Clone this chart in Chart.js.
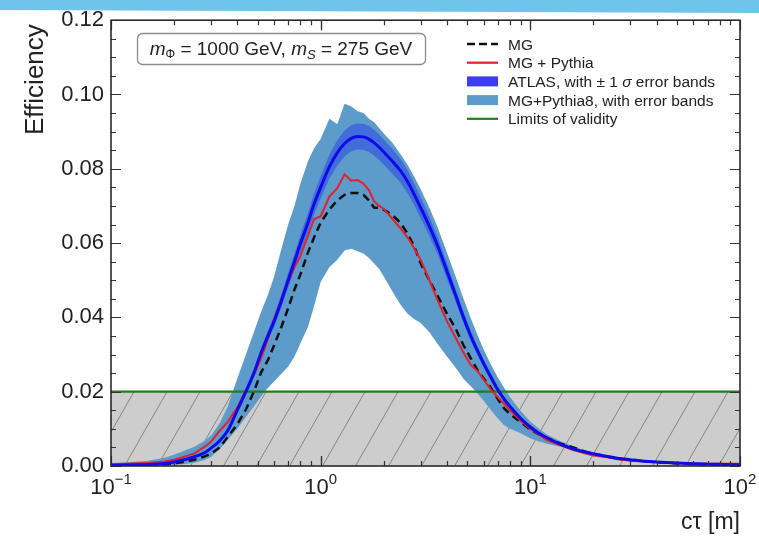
<!DOCTYPE html>
<html><head><meta charset="utf-8">
<script src="https://cdn.jsdelivr.net/npm/chart.js@4.4.0/dist/chart.umd.min.js"></script>
<style>html,body{margin:0;padding:0;background:#fff;}#wrap{width:759px;height:536px;}</style>
</head><body><div id="wrap"><canvas id="c" width="759" height="536"></canvas></div>
<script>
// ---------- data ----------
const ctau = [0.1,0.12,0.15,0.18,0.2,0.22,0.25,0.28,0.3,0.33,0.36,0.4,0.44,0.48,0.52,0.56,0.6,0.65,0.7,0.75,0.8,0.87,0.93,1.0,1.1,1.2,1.3,1.4,1.5,1.6,1.7,1.8,1.9,2.0,2.2,2.4,2.6,2.8,3.0,3.3,3.6,4.0,4.4,4.8,5.2,5.6,6.0,6.5,7.0,7.5,8.0,9.0,10,11,12,14,16,18,20,23,26,30,35,40,50,60,70,85,100];
const atlas = [.0002,.0003,.0004,.0007,.0011,.0016,.0025,.0036,.0048,.0068,.0095,.0150,.0200,.0250,.0305,.0350,.0390,.0445,.0500,.0550,.0598,.0655,.0705,.0750,.0805,.0843,.0868,.0882,.0887,.0886,.0880,.0870,.0858,.0845,.0820,.0795,.0765,.0730,.0695,.0645,.0595,.0525,.0460,.0400,.0350,.0310,.0275,.0238,.0205,.0180,.0160,.0128,.0105,.0088,.0076,.0058,.0046,.0038,.0033,.0026,.0021,.0017,.0013,.0011,.0008,.0006,.0005,.0004,.0003];
const atlasUp = [.0002,.0003,.0004,.0007,.0011,.0017,.0026,.0038,.0050,.0071,.0099,.0156,.0208,.0260,.0317,.0364,.0406,.0463,.0520,.0572,.0622,.0681,.0733,.0780,.0837,.0877,.0903,.0917,.0922,.0921,.0915,.0905,.0892,.0879,.0853,.0827,.0796,.0759,.0723,.0671,.0619,.0546,.0478,.0416,.0364,.0322,.0286,.0248,.0213,.0187,.0166,.0133,.0109,.0092,.0079,.0060,.0048,.0040,.0034,.0027,.0022,.0018,.0014,.0011,.0008,.0006,.0005,.0004,.0003];
const atlasDown = [.0002,.0003,.0004,.0007,.0011,.0015,.0024,.0035,.0046,.0065,.0091,.0144,.0192,.0240,.0293,.0336,.0374,.0427,.0480,.0528,.0574,.0629,.0677,.0720,.0773,.0809,.0833,.0847,.0852,.0851,.0845,.0835,.0824,.0811,.0787,.0763,.0734,.0701,.0667,.0619,.0571,.0504,.0442,.0384,.0336,.0298,.0264,.0228,.0197,.0173,.0154,.0123,.0101,.0084,.0073,.0056,.0044,.0036,.0032,.0025,.0020,.0016,.0012,.0011,.0008,.0006,.0005,.0004,.0003];
const py8Up = [.0008,.0010,.0014,.0022,.0030,.0040,.0052,.0068,.0082,.0115,.0160,.0235,.0300,.0360,.0415,.0460,.0510,.0585,.0650,.0700,.0760,.0820,.0855,.0880,.0935,.0920,.0975,.0968,.0955,.0950,.0935,.0925,.0910,.0895,.0870,.0840,.0810,.0778,.0745,.0695,.0645,.0575,.0510,.0450,.0398,.0352,.0312,.0272,.0238,.0210,.0186,.0148,.0120,.0100,.0085,.0066,.0053,.0043,.0036,.0028,.0023,.0019,.0015,.0012,.0009,.0007,.0006,.0005,.0004];
const py8Down = [.0000,.0000,.0001,.0002,.0003,.0005,.0009,.0016,.0024,.0045,.0070,.0100,.0132,.0160,.0188,.0210,.0228,.0248,.0268,.0295,.0330,.0375,.0430,.0495,.0535,.0555,.0580,.0585,.0578,.0572,.0560,.0545,.0530,.0510,.0470,.0435,.0410,.0395,.0385,.0360,.0330,.0295,.0265,.0235,.0215,.0195,.0175,.0150,.0128,.0110,.0100,.0088,.0075,.0066,.0060,.0052,.0045,.0037,.0030,.0024,.0019,.0015,.0011,.0009,.0006,.0004,.0003,.0002,.0001];
const mgPythia = [.0005,.0006,.0008,.0012,.0017,.0024,.0034,.0052,.0065,.0095,.0118,.0157,.0205,.0245,.0290,.0342,.0395,.0450,.0495,.0535,.0565,.0620,.0665,.0672,.0725,.0748,.0785,.0768,.0770,.0760,.0742,.0712,.0700,.0692,.0665,.0640,.0615,.0585,.0555,.0500,.0448,.0390,.0345,.0305,.0272,.0255,.0232,.0205,.0185,.0168,.0150,.0122,.0100,.0085,.0070,.0055,.0043,.0035,.0028,.0024,.0018,.0014,.0012,.0010,.0008,.0007,.0006,.0006,.0006];
const mg = [.0000,.0001,.0002,.0004,.0007,.0011,.0017,.0026,.0033,.0050,.0078,.0112,.0152,.0200,.0252,.0285,.0325,.0375,.0425,.0475,.0515,.0575,.0615,.0655,.0690,.0715,.0730,.0735,.0735,.0730,.0715,.0695,.0695,.0690,.0675,.0655,.0625,.0590,.0545,.0500,.0460,.0410,.0370,.0325,.0290,.0258,.0235,.0210,.0180,.0155,.0140,.0118,.0098,.0085,.0075,.0060,.0050,.0040,.0033,.0026,.0020,.0016,.0013,.0010,.0007,.0005,.0004,.0003,.0003];
const validityLimit = 0.02;
const yTickValues = [0, 0.02, 0.04, 0.06, 0.08, 0.10, 0.12];
const yTickLabels = ['0.00','0.02','0.04','0.06','0.08','0.10','0.12'];
const yMinorStep = 0.005;
const xTickValues = [0.1, 1, 10, 100];
const xTickBase = ['10','10','10','10'];
const xTickExps = ['\u22121','0','1','2'];
const legendLabels = ['MG','MG + Pythia','ATLAS, with \u00b1 1 \u03c3 error bands','MG+Pythia8, with error bands','Limits of validity'];
const xTitle = 'c\u03c4 [m]';
const yTitle = 'Efficiency';

// ---------- styles ----------
const FONT = '"Liberation Sans", Arial, sans-serif';
const C_BLUE = 'rgb(12,12,235)';
const C_ATLASBAND = 'rgba(0,0,255,0.30)';
const C_ATLASPATCH = 'rgb(60,60,242)';
const C_PY8 = 'rgb(93,155,203)';
const C_RED = 'rgb(230,32,38)';
const C_GREEN = 'rgb(28,128,28)';
const C_TEXT = '#222';

const pts = arr => ctau.map((x, i) => ({x, y: arr[i]}));

function drawParts(ctx, x, y, parts, align) {
  let total = 0;
  parts.forEach(p => { ctx.font = p.f; p.w = ctx.measureText(p.t).width; total += p.w; });
  let cx = align === 'center' ? x - total / 2 : align === 'right' ? x - total : x;
  ctx.textAlign = 'left'; ctx.textBaseline = 'alphabetic';
  parts.forEach(p => { ctx.font = p.f; ctx.fillText(p.t, cx, y + (p.dy || 0)); cx += p.w; });
}

const decor = {
  id: 'decor',
  beforeDatasetsDraw(chart) {
    const {ctx, chartArea: a, scales: {y}} = chart;
    const yTop = y.getPixelForValue(validityLimit), yBot = y.getPixelForValue(0);
    ctx.save();
    ctx.beginPath(); ctx.rect(a.left, yTop, a.right - a.left, yBot - yTop); ctx.clip();
    ctx.fillStyle = '#cdcdcd';
    ctx.fillRect(a.left, yTop, a.right - a.left, yBot - yTop);
    ctx.strokeStyle = '#858585'; ctx.lineWidth = 1;
    const h = yBot - yTop, dx = h / 1.75;
    for (let x0 = a.left - dx - 10; x0 < a.right + dx; x0 += 33) {
      ctx.beginPath(); ctx.moveTo(x0, yBot); ctx.lineTo(x0 + dx, yTop); ctx.stroke();
    }
    ctx.restore();
  },
  afterDatasetDraw(chart, args) {
    if (args.index !== 5) return;
    const {ctx, chartArea: a, scales: {y}} = chart;
    const py = y.getPixelForValue(validityLimit);
    ctx.save();
    ctx.strokeStyle = C_GREEN; ctx.lineWidth = 2.2;
    ctx.beginPath(); ctx.moveTo(a.left, py); ctx.lineTo(a.right, py); ctx.stroke();
    ctx.restore();
  },
  afterDatasetsDraw(chart) {
    const {ctx, chartArea: a, scales: {x, y}} = chart;
    ctx.save();
    ctx.strokeStyle = '#333'; ctx.lineWidth = 1.2;
    // y ticks
    const nY = Math.round(0.12 / yMinorStep);
    for (let k = 0; k <= nY; k++) {
      const v = k * yMinorStep;
      const major = k % 4 === 0;
      const len = major ? 10 : 5;
      const py = Math.round(y.getPixelForValue(v)) + 0.5;
      ctx.beginPath();
      ctx.moveTo(a.left, py); ctx.lineTo(a.left + len, py);
      ctx.moveTo(a.right, py); ctx.lineTo(a.right - len, py);
      ctx.stroke();
    }
    // x ticks
    [0.1, 1, 10].forEach(d => {
      for (let m = 1; m <= 10; m++) {
        const v = d * m;
        const major = (m === 1 || m === 10);
        const len = major ? 10 : 5;
        const px = Math.round(x.getPixelForValue(v)) + 0.5;
        ctx.beginPath();
        ctx.moveTo(px, a.bottom); ctx.lineTo(px, a.bottom - len);
        ctx.moveTo(px, a.top); ctx.lineTo(px, a.top + len);
        ctx.stroke();
      }
    });
    ctx.lineWidth = 1.6; ctx.strokeStyle = '#2a2a2a';
    ctx.strokeRect(a.left, a.top, a.right - a.left, a.bottom - a.top);
    ctx.restore();
  },
  afterDraw(chart) {
    const {ctx, chartArea: a, scales: {x}} = chart;
    ctx.save();
    ctx.fillStyle = C_TEXT;
    // x tick labels
    xTickValues.forEach((v, i) => {
      const px = x.getPixelForValue(v);
      drawParts(ctx, px, a.bottom + 28, [
        {t: xTickBase[i], f: '22px ' + FONT},
        {t: xTickExps[i], f: '15px ' + FONT, dy: -10}
      ], 'center');
    });
    // axis titles
    ctx.font = '23px ' + FONT; ctx.textAlign = 'right'; ctx.textBaseline = 'alphabetic';
    ctx.fillText(xTitle, a.right, a.bottom + 63);
    ctx.save();
    ctx.translate(43, a.top + 4); ctx.rotate(-Math.PI / 2);
    ctx.font = '26px ' + FONT; ctx.textAlign = 'right';
    ctx.fillText(yTitle, 0, 0);
    ctx.restore();
    // annotation box
    ctx.fillStyle = '#fff'; ctx.strokeStyle = '#8c8c8c'; ctx.lineWidth = 1.3;
    ctx.beginPath(); ctx.roundRect(137.5, 33.5, 288, 31, 5); ctx.fill(); ctx.stroke();
    ctx.fillStyle = C_TEXT;
    drawParts(ctx, 281, 55, [
      {t: 'm', f: 'italic 19px ' + FONT},
      {t: '\u03a6', f: '12px ' + FONT, dy: 3},
      {t: ' = 1000 GeV, ', f: '19px ' + FONT},
      {t: 'm', f: 'italic 19px ' + FONT},
      {t: 'S', f: 'italic 13px ' + FONT, dy: 4},
      {t: ' = 275 GeV', f: '19px ' + FONT}
    ], 'center');
    // legend
    const lx0 = 467, lx1 = 498, tx = 508, ly0 = 44, step = 18.7;
    legendLabels.forEach((lab, i) => {
      const cy = ly0 + i * step;
      ctx.save();
      if (i === 0) {
        ctx.strokeStyle = '#111'; ctx.lineWidth = 2.5; ctx.setLineDash([8, 4]);
        ctx.beginPath(); ctx.moveTo(lx0, cy); ctx.lineTo(lx1, cy); ctx.stroke();
      } else if (i === 1 || i === 4) {
        ctx.strokeStyle = i === 1 ? C_RED : C_GREEN; ctx.lineWidth = 2.2;
        ctx.beginPath(); ctx.moveTo(lx0, cy); ctx.lineTo(lx1, cy); ctx.stroke();
      } else {
        ctx.fillStyle = i === 2 ? C_ATLASPATCH : C_PY8;
        ctx.fillRect(lx0, cy - 5, lx1 - lx0, 10);
      }
      ctx.restore();
      ctx.fillStyle = C_TEXT;
      if (i === 2) {
        const parts = lab.split('\u03c3');
        drawParts(ctx, tx, cy + 5.5, [
          {t: parts[0], f: '15.5px ' + FONT},
          {t: '\u03c3', f: 'italic 15.5px ' + FONT},
          {t: parts[1], f: '15.5px ' + FONT}
        ], 'left');
      } else {
        drawParts(ctx, tx, cy + 5.5, [{t: lab, f: '15.5px ' + FONT}], 'left');
      }
    });
    // top banner strip
    ctx.fillStyle = 'rgb(110,196,234)';
    ctx.beginPath(); ctx.moveTo(0, 0); ctx.lineTo(759, 0); ctx.lineTo(759, 13); ctx.lineTo(0, 10); ctx.closePath(); ctx.fill();
    ctx.restore();
  }
};

new Chart(document.getElementById('c'), {
  type: 'line',
  data: {
    datasets: [
      {label: 'ATLAS', data: pts(atlas), borderColor: C_BLUE, borderWidth: 3, cubicInterpolationMode: 'monotone', fill: false},
      {label: 'MG + Pythia', data: pts(mgPythia), borderColor: C_RED, borderWidth: 2, fill: false},
      {label: 'MG', data: pts(mg), borderColor: '#111', borderWidth: 2.5, borderDash: [8, 5], fill: false},
      {label: 'ATLAS band up', data: pts(atlasUp), borderWidth: 0, borderColor: 'rgba(0,0,0,0)', backgroundColor: C_ATLASBAND, fill: '+1'},
      {label: 'ATLAS band down', data: pts(atlasDown), borderWidth: 0, borderColor: 'rgba(0,0,0,0)', fill: false},
      {label: 'MG+Pythia8 up', data: pts(py8Up), borderWidth: 0, borderColor: 'rgba(0,0,0,0)', backgroundColor: C_PY8, fill: '+1'},
      {label: 'MG+Pythia8 down', data: pts(py8Down), borderWidth: 0, borderColor: 'rgba(0,0,0,0)', fill: false}
    ]
  },
  options: {
    responsive: false, animation: false, devicePixelRatio: 1,
    layout: {padding: {left: 0, right: 19, top: 15, bottom: 0}},
    elements: {point: {radius: 0, hoverRadius: 0}, line: {tension: 0}},
    plugins: {legend: {display: false}, tooltip: {enabled: false}, filler: {propagate: false}},
    scales: {
      x: {type: 'logarithmic', min: 0.1, max: 100,
          ticks: {display: false}, grid: {display: false, drawTicks: false}, border: {display: false},
          afterFit: s => { s.height = 70; }},
      y: {type: 'linear', min: 0, max: 0.12,
          afterBuildTicks: s => { s.ticks = yTickValues.map(v => ({value: v})); },
          ticks: {callback: (v, i) => yTickLabels[i], font: {family: FONT, size: 22}, color: C_TEXT, padding: 7},
          grid: {display: false, drawTicks: false}, border: {display: false},
          afterFit: s => { s.width = 111; }}
    }
  },
  plugins: [decor]
});
</script></body></html>
